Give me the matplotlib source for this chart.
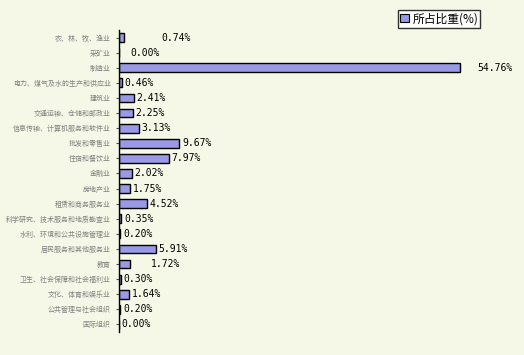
import matplotlib
matplotlib.use("Agg")
import matplotlib.pyplot as plt

categories = ["农、林、牧、渔业", "采矿业", "制造业", "电力、煤气及水的生产和供应业", "建筑业",
              "交通运输、仓储和邮政业", "信息传输、计算机服务和软件业", "批发和零售业", "住宿和餐饮业",
              "金融业", "房地产业", "租赁和商务服务业", "科学研究、技术服务和地质勘查业",
              "水利、环境和公共设施管理业", "居民服务和其他服务业", "教育", "卫生、社会保障和社会福利业",
              "文化、体育和娱乐业", "公共管理与社会组织", "国际组织"]
values = [0.74, 0.00, 54.76, 0.46, 2.41, 2.25, 3.13, 9.67, 7.97, 2.02, 1.75, 4.52, 0.35,
          0.20, 5.91, 1.72, 0.30, 1.64, 0.20, 0.00]
series_name = "所占比重(%)"

# label nudges (points) to mimic reference placement
nudge = {0: 25, 1: 6, 2: 10, 15: 13}

bg = "#F5F8E6"
bar_color = "#9999E6"

fig = plt.figure(figsize=(5.24, 3.55), dpi=100, facecolor=bg)
ax = fig.add_axes([119/524, 1-332/355, (493-119)/524, (332-30)/355], facecolor=bg)

n = len(categories)
ypos = list(range(n))
ax.barh(ypos, values, height=0.58, color=bar_color, edgecolor="black", linewidth=1.0)
ax.set_ylim(n-0.5, -0.5)
ax.set_xlim(0, 60)

for i, v in enumerate(values):
    ax.annotate(f"{v:.2f}%", (v, i), xytext=(2+nudge.get(i, 0), 0), textcoords="offset points",
                va="center", ha="left", fontsize=7, family="DejaVu Sans Mono", color="black")

ax.set_yticks(ypos)
ax.set_yticklabels(categories, family=["Noto Sans CJK SC", "DejaVu Sans"], fontsize=5.0, color="#808080")
ax.tick_params(axis="y", length=2, width=0.8, pad=4, direction="out", color="#555555")
ax.set_xticks([])
for s in ["top", "right", "bottom"]:
    ax.spines[s].set_visible(False)
ax.spines["left"].set_linewidth(1.0)

leg = fig.legend([plt.Rectangle((0, 0), 1, 1, facecolor=bar_color, edgecolor="black", linewidth=0.8)],
                 [series_name], loc="upper left", bbox_to_anchor=(398/524, 1-10/355),
                 prop={"family": ["Noto Sans CJK SC", "DejaVu Sans"], "size": 8.5},
                 frameon=True, fancybox=False, handlelength=0.7, handleheight=0.7,
                 handletextpad=0.3, borderpad=0.2, borderaxespad=0)
leg.get_frame().set_edgecolor("black")
leg.get_frame().set_facecolor("white")
leg.get_frame().set_linewidth(1.0)

fig.savefig("out.png", dpi=100, facecolor=bg)
